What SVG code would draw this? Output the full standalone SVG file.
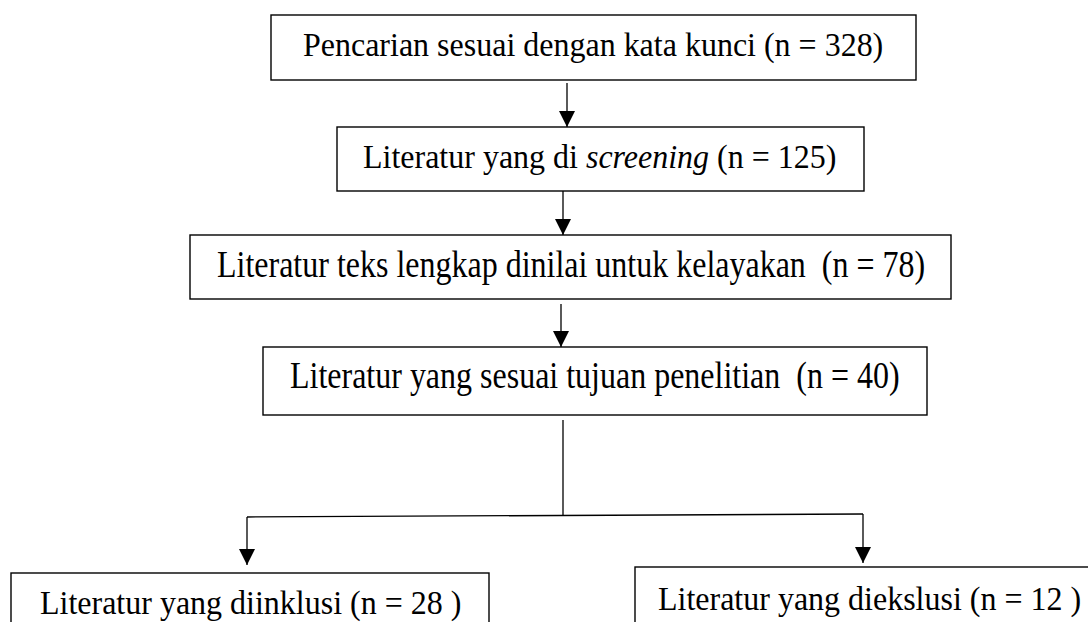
<svg xmlns="http://www.w3.org/2000/svg" width="1088" height="622" viewBox="0 0 1088 622">
<defs>
<style>
.box{fill:#fff;stroke:#000;stroke-width:1.4}
.lbl{font-family:"Liberation Serif","Times New Roman",serif;font-size:32px;fill:#000}
.con{fill:none;stroke:#000;stroke-width:1.3}
</style>
<marker id="ah" markerUnits="userSpaceOnUse" markerWidth="16" markerHeight="16" viewBox="0 0 15 15" refX="15" refY="7.5" orient="auto">
<path d="M0,0 L15,7.5 L0,15 z" fill="#000"/>
</marker>
</defs>
<rect width="1088" height="622" fill="#fff"/>
<g id="connectors">
<line class="con" x1="567" y1="83" x2="567" y2="127" marker-end="url(#ah)"/>
<line class="con" x1="563" y1="191" x2="563" y2="235" marker-end="url(#ah)"/>
<line class="con" x1="561" y1="304" x2="561" y2="347" marker-end="url(#ah)"/>
<line class="con" x1="563" y1="420" x2="563" y2="515"/>
<line class="con" x1="247" y1="517" x2="863" y2="514"/>
<line class="con" x1="247" y1="517" x2="247" y2="565" marker-end="url(#ah)"/>
<line class="con" x1="863" y1="514" x2="863" y2="563" marker-end="url(#ah)"/>
</g>
<g id="n1">
<rect class="box" x="271" y="15" width="645" height="65"/>
<text class="lbl" transform="translate(303,56) scale(1,1.07)">Pencarian sesuai dengan kata kunci (n = 328)</text>
</g>
<g id="n2">
<rect class="box" x="337" y="127" width="527" height="64"/>
<text class="lbl" transform="translate(363,168) scale(1,1.07)">Literatur yang di <tspan font-style="italic">screening</tspan> (n = 125)</text>
</g>
<g id="n3">
<rect class="box" x="190" y="235" width="761" height="64"/>
<text class="lbl" transform="translate(217,277) scale(1,1.2)" xml:space="preserve">Literatur teks lengkap dinilai untuk kelayakan  (n = 78)</text>
</g>
<g id="n4">
<rect class="box" x="263" y="347" width="664" height="68"/>
<text class="lbl" transform="translate(290,388) scale(1,1.2)" xml:space="preserve">Literatur yang sesuai tujuan penelitian  (n = 40)</text>
</g>
<g id="n5">
<rect class="box" x="11" y="573" width="478" height="80"/>
<text class="lbl" transform="translate(40,614) scale(1,1.05)">Literatur yang diinklusi (n = 28 )</text>
</g>
<g id="n6">
<rect class="box" x="635" y="567" width="480" height="80"/>
<text class="lbl" transform="translate(658,610) scale(1,1.05)">Literatur yang diekslusi (n = 12 )</text>
</g>
</svg>
